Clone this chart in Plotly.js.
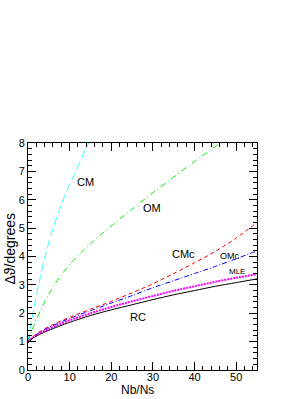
<!DOCTYPE html>
<html>
<head>
<meta charset="utf-8">
<script src="https://cdn.plot.ly/plotly-3.0.1.min.js"></script>
<style>html,body{margin:0;padding:0;background:#fff;}#chart{width:308px;height:399px;}</style>
</head>
<body>
<div id="chart"></div>
<script>
// ---- data ----
var cmX  = [0, 0.5, 1, 2, 3, 4, 5.5, 7.3, 9, 11.3, 13, 14.5];
var cmY  = [1.0, 1.45, 1.85, 2.6, 3.3, 3.95, 4.75, 5.55, 6.2, 6.95, 7.5, 8.0];

var omX  = [0, 0.5, 1, 2, 3, 4, 5, 6.5, 8, 10, 12.5, 15, 18, 21, 25, 30, 35, 40, 46.2];
var omY  = [1.0, 1.22, 1.42, 1.78, 2.1, 2.4, 2.67, 3.03, 3.35, 3.72, 4.1, 4.45, 4.83, 5.2, 5.67, 6.25, 6.8, 7.35, 8.0];

var cmcX = [0, 1, 2.5, 5, 10, 15, 20, 25, 30, 35, 40, 45, 50, 55];
var cmcY = [1.0, 1.15, 1.32, 1.53, 1.86, 2.14, 2.42, 2.72, 3.04, 3.4, 3.78, 4.18, 4.65, 5.2];

var omcX = [0, 1, 2.5, 5, 10, 15, 20, 25, 30, 35, 40, 45, 50, 55];
var omcY = [1.0, 1.14, 1.3, 1.5, 1.82, 2.09, 2.36, 2.62, 2.9, 3.15, 3.4, 3.65, 3.92, 4.2];

var mleX = [0, 1, 2.5, 5, 10, 15, 20, 25, 30, 35, 40, 45, 50, 55];
var mleY = [1.0, 1.13, 1.27, 1.45, 1.75, 2.0, 2.22, 2.42, 2.61, 2.79, 2.95, 3.11, 3.25, 3.38];

var rcX  = [0, 1, 2.5, 5, 10, 15, 20, 25, 30, 35, 40, 45, 50, 55];
var rcY  = [0.95, 1.1, 1.23, 1.4, 1.68, 1.92, 2.12, 2.3, 2.48, 2.65, 2.8, 2.95, 3.08, 3.21];

var seriesNames = ["CM", "OM", "CMc", "OMc", "MLE", "RC"];
var labelX = [13.9, 29.9, 37.3, 48.5, 50.1, 26.5];
var labelY = [6.61, 5.71, 4.1, 4.03, 3.48, 1.87];

var xTitle = "Nb/Ns";
var yTitle = "Δϑ/degrees";

// ---- styles ----
var FONT = "Liberation Sans, Arial, Helvetica, sans-serif";
function tr(x, y, name, color, dash, width) {
  return {x: x, y: y, name: name, type: "scatter", mode: "lines",
          line: {color: color, dash: dash, width: width, shape: "spline", smoothing: 0.8},
          hoverinfo: "skip"};
}
var data = [
  tr(cmX, cmY, seriesNames[0], "#33ffff", "8px,4px", 1),
  tr(omX, omY, seriesNames[1], "#00ee00", "6px,3px,1px,3px", 1),
  tr(cmcX, cmcY, seriesNames[2], "#ff0000", "4px,3px", 1),
  tr(omcX, omcY, seriesNames[3], "#0000ff", "5px,2px,1px,2px", 1),
  tr(mleX, mleY, seriesNames[4], "#ff00ff", "2px,1px", 2),
  tr(rcX, rcY, seriesNames[5], "#000000", "solid", 1)
];

var labelSizes = [11, 11, 11, 9, 8, 11];
var annotations = seriesNames.map(function (n, i) {
  return {x: labelX[i], y: labelY[i], xref: "x", yref: "y", text: n, showarrow: false,
          font: {family: FONT, size: labelSizes[i], color: "#000"}};
});
annotations.push({x: 0.476, y: -29 / 227, xref: "paper", yref: "paper", text: xTitle, showarrow: false,
  xanchor: "center", yanchor: "bottom", yshift: 1, borderpad: 0,
  font: {family: FONT, size: 12, color: "#000"}});
annotations.push({x: 0, y: 0.5, xref: "paper", yref: "paper", text: yTitle, showarrow: false,
  textangle: -90, xanchor: "center", yanchor: "middle", xshift: -19, yshift: 8,
  font: {family: FONT, size: 14, color: "#000"}});

var axisCommon = {
  showgrid: false, zeroline: false, showline: true, linecolor: "#000", linewidth: 1,
  mirror: "allticks", ticks: "inside", tickcolor: "#000", tickwidth: 1, ticklen: 8,
  tickfont: {family: FONT, size: 11, color: "#000"}, fixedrange: true
};
var layout = {
  width: 308, height: 399,
  margin: {l: 28, r: 51, t: 143, b: 29},
  paper_bgcolor: "#fff", plot_bgcolor: "#fff",
  showlegend: false,
  xaxis: Object.assign({}, axisCommon, {range: [0, 55], dtick: 10, tick0: 0, ticklabelstandoff: -3,
    minor: {dtick: 2, ticks: "inside", ticklen: 4, tickcolor: "#000", tickwidth: 1}}),
  yaxis: Object.assign({}, axisCommon, {range: [0, 8], dtick: 1, tick0: 0,
    minor: {dtick: 0.2, ticks: "inside", ticklen: 4, tickcolor: "#000", tickwidth: 1}}),
  annotations: annotations
};
Plotly.newPlot("chart", data, layout, {staticPlot: true, displayModeBar: false});
</script>
</body>
</html>
